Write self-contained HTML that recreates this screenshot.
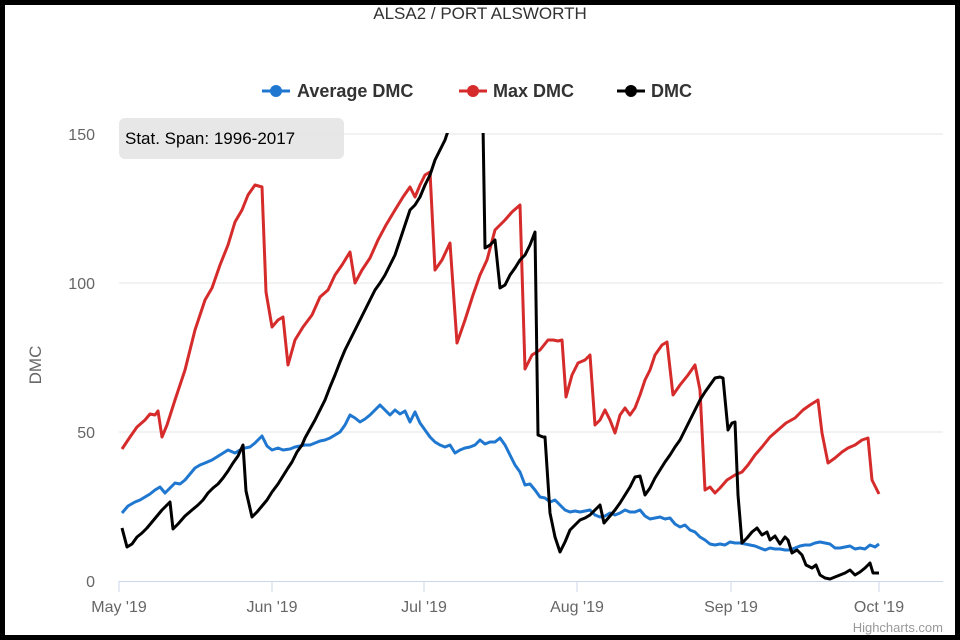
<!DOCTYPE html>
<html><head><meta charset="utf-8"><style>
html,body{margin:0;padding:0;background:#000;}
svg{display:block;font-family:"Liberation Sans",sans-serif;}
</style></head><body>
<svg width="960" height="640" viewBox="0 0 960 640">
<rect x="5" y="5" width="950" height="630" fill="#fff"/>
<defs><clipPath id="c"><rect x="100" y="133" width="860" height="460"/></clipPath></defs>
<text x="480" y="19" text-anchor="middle" font-size="17" fill="#333">ALSA2 / PORT ALSWORTH</text>
<g font-size="18" font-weight="bold" fill="#333">
<line x1="262" y1="91" x2="290" y2="91" stroke="#1f77d0" stroke-width="3"/><circle cx="276" cy="91" r="6" fill="#1f77d0"/><text x="297" y="97">Average DMC</text>
<line x1="459" y1="91" x2="487" y2="91" stroke="#d62b2b" stroke-width="3"/><circle cx="473" cy="91" r="6" fill="#d62b2b"/><text x="493" y="97">Max DMC</text>
<line x1="617" y1="91" x2="645" y2="91" stroke="#000" stroke-width="3"/><circle cx="631" cy="91" r="6" fill="#000"/><text x="651" y="97">DMC</text>
</g>
<g stroke="#e6e6e6" stroke-width="1">
<line x1="119" y1="134" x2="943" y2="134"/><line x1="119" y1="283" x2="943" y2="283"/><line x1="119" y1="432" x2="943" y2="432"/>
</g>
<line x1="119" y1="581.5" x2="943" y2="581.5" stroke="#ccd6eb"/>
<g stroke="#ccd6eb"><line x1="119" y1="581" x2="119" y2="592"/><line x1="272" y1="581" x2="272" y2="592"/><line x1="424" y1="581" x2="424" y2="592"/><line x1="577" y1="581" x2="577" y2="592"/><line x1="731" y1="581" x2="731" y2="592"/><line x1="879" y1="581" x2="879" y2="592"/></g>
<g font-size="16" fill="#666" text-anchor="end">
<text x="95" y="140">150</text><text x="95" y="289">100</text><text x="95" y="438">50</text><text x="95" y="587">0</text>
</g>
<text transform="translate(41,365) rotate(-90)" font-size="17" fill="#666" text-anchor="middle">DMC</text>
<g font-size="16" fill="#666" text-anchor="middle">
<text x="119" y="612">May '19</text><text x="272" y="612">Jun '19</text><text x="424" y="612">Jul '19</text><text x="577" y="612">Aug '19</text><text x="731" y="612">Sep '19</text><text x="879" y="612">Oct '19</text>
</g>
<text x="943" y="632" font-size="13" fill="#999" text-anchor="end">Highcharts.com</text>
<g clip-path="url(#c)" fill="none" stroke-width="3" stroke-linejoin="round">
<polyline stroke="#d62b2b" points="122,449 130,437 137,427 145,420 150,414 155,415 158,411 162,437 167,425 175,400 185,370 195,330 205,300 212,288 220,265 228,245 235,222 242,210 248,195 255,185 262,187 266,292 272,327 278,320 283,317 288,365 295,340 303,327 312,315 320,297 328,290 335,275 342,265 350,252 355,283 362,270 370,258 378,240 386,225 395,210 403,197 410,187 415,197 420,185 425,175 430,172 435,270 442,260 450,243 457,343 465,320 473,295 480,275 487,260 495,230 500,225 505,220 512,212 520,205 525,369 532,355 540,350 548,340 553,340 558,341 562,340 566,397 572,375 578,363 585,360 590,355 595,425 600,420 605,410 610,420 615,433 620,415 625,408 630,415 635,408 640,395 645,380 650,370 655,355 662,345 667,342 673,395 680,385 688,375 695,365 700,390 705,490 710,487 715,493 720,488 727,480 735,475 742,472 748,465 755,455 762,447 770,437 778,430 786,423 795,418 803,410 810,405 818,400 822,433 828,463 835,458 842,452 848,448 855,445 862,440 868,438 872,480 879,494"/>
<polyline stroke="#1f77d0" points="122,513 128,506 135,502 140,500 145,497 150,494 155,490 160,487 165,493 170,488 175,483 180,484 185,480 190,474 195,468 200,465 205,463 212,460 220,455 228,450 235,453 240,450 245,448 250,447 255,443 262,436 267,446 272,450 278,448 283,450 290,449 295,447 300,446 305,445 310,445 315,443 320,441 325,440 330,438 335,435 340,432 345,425 350,415 355,418 360,422 365,419 370,415 375,410 380,405 385,410 390,415 395,410 400,414 405,411 410,422 415,412 420,423 425,430 430,437 435,442 440,445 445,447 450,445 455,453 460,450 465,448 470,447 475,445 480,440 485,444 490,442 495,442 500,438 505,445 510,455 515,465 520,472 525,485 530,484 535,490 540,497 545,498 550,502 555,500 560,505 565,510 570,512 575,511 580,512 585,511 590,510 595,515 600,517 605,516 610,513 615,515 620,513 625,510 630,512 635,512 640,510 645,516 650,519 655,518 660,517 665,519 670,518 675,524 680,527 685,525 690,530 695,532 700,537 705,540 710,544 715,545 720,544 725,545 730,542 735,543 740,543 745,544 750,545 755,546 760,548 765,550 770,548 775,549 780,549 785,550 790,550 795,548 800,546 805,545 810,545 815,543 820,542 825,543 830,544 835,548 840,548 845,547 850,546 855,549 860,548 865,549 870,545 875,547 879,544"/>
<polyline stroke="#000" points="122,528 127,547 132,544 137,537 142,533 147,528 152,522 157,516 162,510 167,505 170,502 173,529 178,524 185,516 192,510 198,505 203,500 208,493 213,488 218,484 223,478 228,471 233,463 238,456 243,445 246,491 252,517 257,512 262,506 267,500 272,492 278,484 283,476 288,468 292,462 297,452 302,445 305,438 310,429 315,420 320,410 325,400 330,387 335,375 340,362 345,350 350,340 355,330 360,320 365,310 370,300 375,290 380,283 385,275 390,265 395,255 400,240 405,225 410,210 415,205 420,197 425,185 430,175 435,160 440,150 445,140 450,125 470,80 483,125 485,248 490,245 495,240 500,288 505,285 510,275 515,268 520,260 525,255 530,245 535,232 538,435 543,437 545,437 550,513 555,537 560,552 565,542 570,530 575,525 580,520 585,518 590,515 595,510 600,505 604,523 610,516 615,510 620,503 625,495 630,487 635,477 640,476 645,495 650,488 655,478 660,470 665,462 670,455 675,447 680,440 685,430 690,420 695,410 700,400 705,392 710,385 715,378 720,377 723,378 728,430 732,423 735,422 738,495 742,543 747,538 752,532 757,528 762,535 767,532 770,540 775,536 780,544 785,537 788,540 792,553 797,550 802,555 806,565 812,568 816,565 820,575 825,578 830,579 835,577 840,575 845,573 850,570 855,575 860,572 865,568 870,563 873,573 879,573"/>
</g>
<rect x="119" y="118" width="225" height="41" rx="6" fill="#e6e6e6" opacity="0.95"/>
<text x="125" y="144" font-size="17" fill="#000">Stat. Span: 1996-2017</text>
</svg>
</body></html>
